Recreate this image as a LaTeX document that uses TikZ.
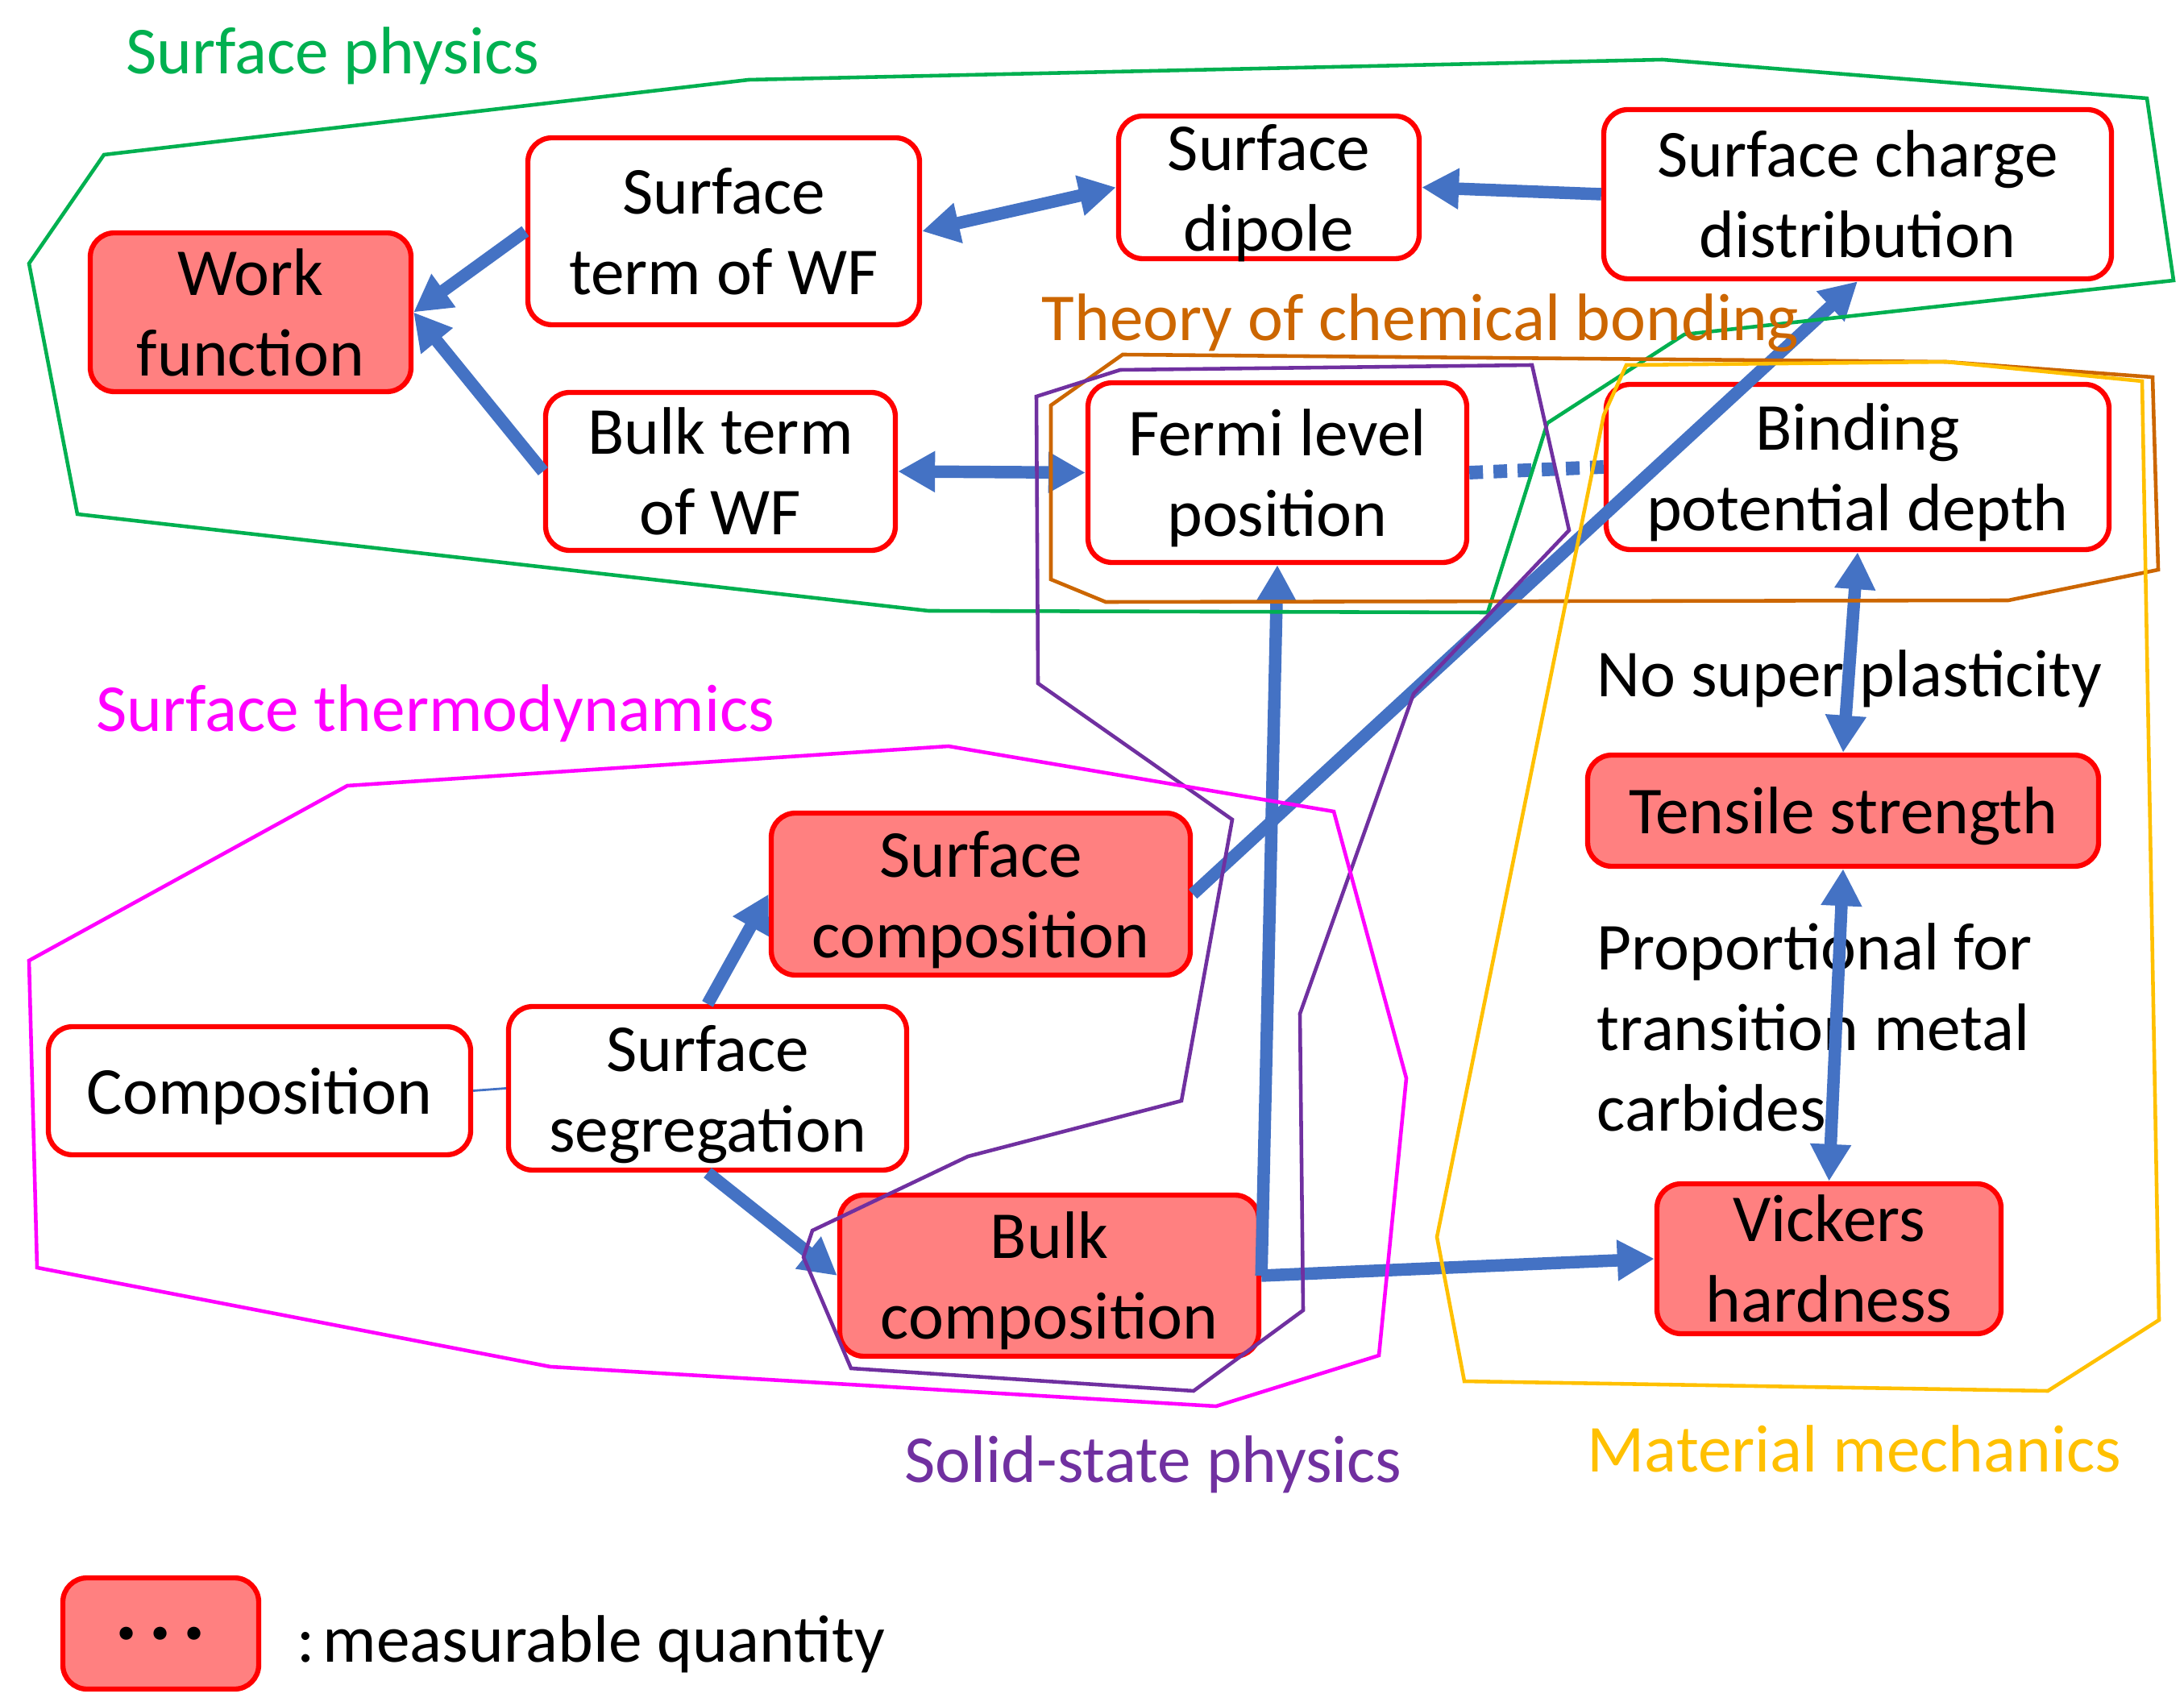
\documentclass[tikz,border=0pt]{standalone}
\usepackage{fontspec}
\setmainfont{Carlito}
\usepackage{xcolor}
\usetikzlibrary{arrows.meta}
\definecolor{MapBlue}{RGB}{68,114,196}
\definecolor{MapRed}{RGB}{255,0,0}
\definecolor{MapSalmon}{RGB}{255,128,128}
\definecolor{MapGreen}{RGB}{0,176,80}
\definecolor{MapOrange}{RGB}{204,102,0}
\definecolor{MapMagenta}{RGB}{255,0,255}
\definecolor{MapPurple}{RGB}{112,48,160}
\definecolor{MapGold}{RGB}{255,192,0}

\begin{document}
\begin{tikzpicture}[
        qty/.style={rounded corners=0.3cm, draw=MapRed, line width=1.8pt, fill=white, align=center, inner sep=0pt, text depth=0pt, font=\fontsize{23.7}{28.45}\selectfont},
        meas/.style={qty, fill=MapSalmon},
        link/.style={-{Triangle[length=4.6mm,width=4.8mm]}, line width=4.4pt, draw=MapBlue},
        both/.style={{Triangle[length=4.6mm,width=4.8mm]}-{Triangle[length=4.6mm,width=4.8mm]}, line width=4.4pt, draw=MapBlue},
        area/.style={line width=1.3pt, line join=miter},
        tag/.style={anchor=base west, inner sep=0pt, font=\fontsize{23.7}{28.45}\selectfont}
      ]
        \useasboundingbox (0,0) rectangle (27.10,-21.17);
        % quantities
        \node[meas, minimum width=3.98cm, minimum height=1.97cm] (work) at (3.11,-3.875) {Work\\function};
        \node[qty, minimum width=4.86cm, minimum height=2.32cm] (sterm) at (8.98,-2.87) {Surface\\term of WF};
        \node[qty, minimum width=3.73cm, minimum height=1.77cm] (dipole) at (15.745,-2.325) {Surface\\dipole};
        \node[qty, minimum width=6.30cm, minimum height=2.10cm] (charge) at (23.05,-2.41) {Surface charge\\distribution};
        \node[qty, minimum width=4.34cm, minimum height=1.96cm] (bterm) at (8.94,-5.85) {Bulk term\\of WF};
        \node[qty, minimum width=4.70cm, minimum height=2.23cm] (fermi) at (15.85,-5.865) {Fermi level\\position};
        \node[qty, minimum width=6.24cm, minimum height=2.05cm] (binding) at (23.05,-5.795) {Binding\\potential depth};
        \node[meas, minimum width=6.34cm, minimum height=1.38cm] (tensile) at (22.87,-10.06) {Tensile strength};
        \node[meas, minimum width=4.27cm, minimum height=1.86cm] (vickers) at (22.695,-15.62) {Vickers\\hardness};
        \node[meas, minimum width=5.20cm, minimum height=2.01cm] (scomp) at (12.17,-11.095) {Surface\\composition};
        \node[qty, minimum width=5.24cm, minimum height=1.59cm] (comp) at (3.22,-13.535) {Composition};
        \node[qty, minimum width=4.94cm, minimum height=2.03cm] (sseg) at (8.78,-13.505) {Surface\\segregation};
        \node[meas, minimum width=5.20cm, minimum height=2.00cm] (bcomp) at (13.02,-15.83) {Bulk\\composition};
        \node[meas, minimum width=2.43cm, minimum height=1.38cm, font=\fontsize{31}{37}\selectfont\bfseries] (legend) at (1.995,-20.27) {.\kern3.7pt.\kern3.7pt.};
        \node[tag] (legtext) at (3.68,-20.62) {:\kern2.8pt measurable quantity};
        % relation texts
        \node[tag] (nosuper) at (19.81,-8.65) {No super plasticity};
        \node[tag, anchor=west, align=left] (propto) at (19.81,-12.75) {Proportional for\\transition metal\\carbides};
        % relations
        \draw[link] (sterm.west) -- (work.east);
        \draw[link] (bterm.west) -- (work.east);
        \draw[both] (sterm.east) -- (dipole.west);
        \draw[link] (charge.west) -- (dipole.east);
        \draw[both] (bterm.east) -- (fermi.west);
        \draw[draw=MapBlue, line width=4.8pt, dash pattern=on 1.7mm off 1.3mm] (fermi.east) -- (binding.west);
        \draw[link] (scomp.east) -- (charge.south);
        \draw[link] (bcomp.east) -- (fermi.south);
        \draw[link] (bcomp.east) -- (vickers.west);
        \draw[both] (binding.south) -- (tensile.north);
        \draw[both] (tensile.south) -- (vickers.north);
        \draw[link] (sseg.north) -- (scomp.west);
        \draw[link] (sseg.south) -- (bcomp.west);
        \draw[draw=MapBlue, line width=0.8pt] (comp.east) -- (sseg.west);
        % fields
        \draw[area, draw=MapGreen] (1.29,-1.92) -- (9.29,-0.99) -- (20.63,-0.74) -- (26.64,-1.22) -- (26.97,-3.48) -- (20.90,-4.15) -- (19.20,-5.25) -- (18.46,-7.60) -- (11.52,-7.58) -- (0.96,-6.38) -- (0.36,-3.27) -- cycle;
        \draw[area, draw=MapOrange] (13.93,-4.40) -- (24.15,-4.49) -- (26.71,-4.68) -- (26.78,-7.07) -- (24.92,-7.45) -- (13.72,-7.47) -- (13.04,-7.19) -- (13.04,-5.03) -- cycle;
        \draw[area, draw=MapPurple] (12.86,-4.92) -- (13.90,-4.59) -- (19.01,-4.53) -- (19.47,-6.58) -- (17.54,-8.61) -- (16.13,-12.58) -- (16.17,-16.26) -- (14.81,-17.26) -- (10.56,-16.98) -- (9.97,-15.60) -- (10.08,-15.27) -- (12.01,-14.35) -- (14.66,-13.66) -- (15.29,-10.17) -- (12.88,-8.48) -- cycle;
        \draw[area, draw=MapMagenta] (0.36,-11.92) -- (4.31,-9.75) -- (11.77,-9.26) -- (16.55,-10.07) -- (17.45,-13.38) -- (17.11,-16.82) -- (15.09,-17.45) -- (6.83,-16.96) -- (0.46,-15.73) -- cycle;
        \draw[area, draw=MapGold] (20.18,-4.53) -- (24.15,-4.49) -- (26.58,-4.73) -- (26.79,-16.38) -- (25.41,-17.26) -- (18.17,-17.14) -- (17.83,-15.35) -- (19.90,-5.15) -- cycle;
        \node[tag, text=MapGreen] (lphys) at (1.56,-0.92) {Surface physics};
        \node[tag, text=MapOrange] (lbond) at (12.92,-4.23) {Theory of chemical bonding};
        \node[tag, text=MapMagenta] (lthermo) at (1.19,-9.08) {Surface thermodynamics};
        \node[tag, text=MapPurple] (lsolid) at (11.22,-18.39) {Solid-state physics};
        \node[tag, text=MapGold] (lmech) at (19.69,-18.26) {Material mechanics};
      \end{tikzpicture}
\end{document}
